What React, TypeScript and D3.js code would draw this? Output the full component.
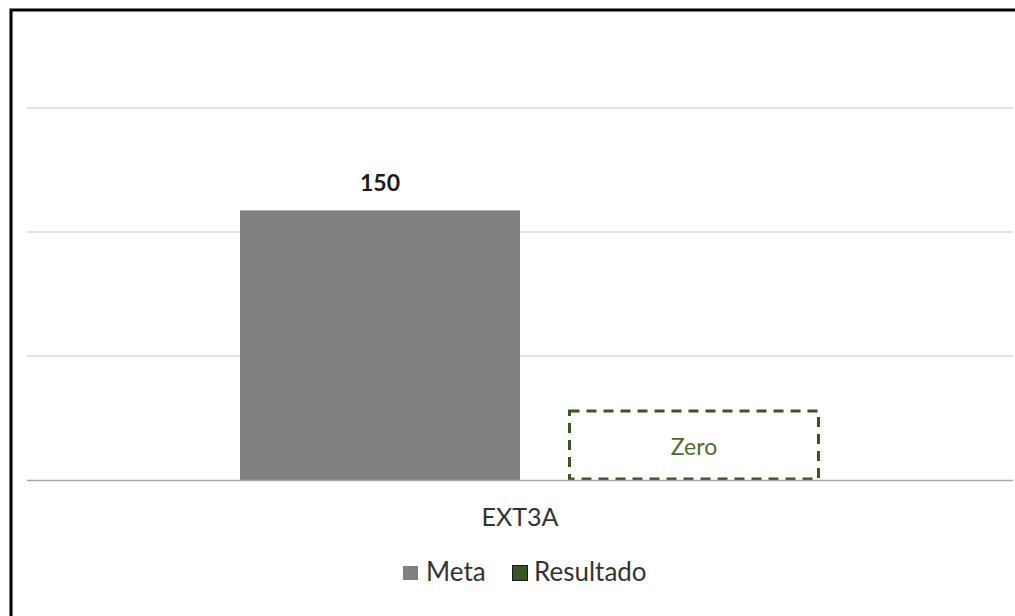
import React from "react";
import * as d3 from "d3";

const categories = ["EXT3A"];
const seriesNames = ["Meta", "Resultado"];
const metaValues = [150];
const resultadoValues = [0];
const gridValues = [0, 69, 138, 207];
const valueLabels = ["150"];
const zeroLabel = "Zero";

const W = 1015;
const H = 616;
const FONT = "Lato, 'Open Sans', sans-serif";

export default function App() {
  const plotLeft = 27;
  const plotRight = 1013;
  const plotTop = 108;
  const plotBottom = 480;

  const y = d3.scaleLinear().domain([0, 207]).range([plotBottom, plotTop]);
  const x0 = d3.scaleBand<string>().domain(categories).range([240, 850]).paddingInner(0).paddingOuter(0);
  const x1 = d3
    .scaleBand<string>()
    .domain(seriesNames)
    .range([0, x0.bandwidth()])
    .paddingInner(50 / 330)
    .paddingOuter(0);

  const colors: Record<string, string> = { Meta: "#808080", Resultado: "#375623" };

  return (
    <svg
      width={W}
      height={H}
      style={{ position: "absolute", left: 0, top: 0, display: "block" }}
      fontFamily={FONT}
    >
      <rect x={0} y={0} width={W} height={H} fill="#ffffff" />
      {gridValues.slice(1).map((v) => (
        <line
          key={v}
          x1={plotLeft}
          x2={plotRight}
          y1={y(v)}
          y2={y(v)}
          stroke="#d9d9d9"
          strokeWidth={1.5}
        />
      ))}
      {categories.map((c, i) => {
        const gx = x0(c) as number;
        const mx = gx + (x1("Meta") as number);
        const rx = gx + (x1("Resultado") as number);
        const mv = metaValues[i];
        const rv = resultadoValues[i];
        return (
          <g key={c}>
            <rect
              x={mx}
              y={y(mv)}
              width={x1.bandwidth()}
              height={y(0) - y(mv)}
              fill={colors.Meta}
            />
            <rect
              x={rx}
              y={y(rv)}
              width={x1.bandwidth()}
              height={y(0) - y(rv)}
              fill={colors.Resultado}
            />
            <text
              x={mx + x1.bandwidth() / 2}
              y={y(mv) - 19}
              textAnchor="middle"
              fontWeight="bold"
              fontSize={23}
              fill="#1a1a1a"
            >
              {valueLabels[i]}
            </text>
            <rect
              x={rx - 0.5}
              y={y(0) - 69}
              width={249}
              height={68}
              fill="none"
              stroke="#375623"
              strokeWidth={3}
              strokeDasharray="10 7"
            />
            <text
              x={rx - 0.5 + 124.5}
              y={y(0) - 25}
              textAnchor="middle"
              fontSize={23}
              fill="#4f6b30"
            >
              {zeroLabel}
            </text>
          </g>
        );
      })}
      <line
        x1={plotLeft}
        x2={plotRight}
        y1={y(0) + 0.5}
        y2={y(0) + 0.5}
        stroke="#a6a6a6"
        strokeWidth={1.5}
      />
      {categories.map((c) => (
        <text
          key={c}
          x={(plotLeft + plotRight) / 2}
          y={526}
          textAnchor="middle"
          fontSize={25}
          fill="#333333"
        >
          {c}
        </text>
      ))}
      <g>
        <rect x={403} y={566} width={15} height={14} fill={colors.Meta} />
        <text x={426} y={581} fontSize={26} fill="#333333">
          {seriesNames[0]}
        </text>
        <rect x={512.5} y={565.5} width={15} height={15} fill={colors.Resultado} stroke="#1a1a1a" strokeWidth={1} />
        <text x={534} y={581} fontSize={26} fill="#333333">
          {seriesNames[1]}
        </text>
      </g>
      <path d={`M11,${H} V10 H${W}`} fill="none" stroke="#000000" strokeWidth={3} />
    </svg>
  );
}
